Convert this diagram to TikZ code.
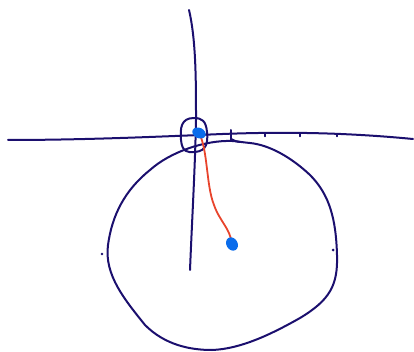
\documentclass[tikz,border=0pt]{standalone}
\begin{document}
\begin{tikzpicture}[x=1pt,y=-1pt,
  ink/.style={draw=inkc,line width=2pt,line cap=round,line join=round},
  thin ink/.style={draw=inkc,line width=1.5pt,line cap=round},
  redline/.style={draw=redc,line width=1.8pt,line cap=round}]
\definecolor{inkc}{HTML}{1B0F6E}
\definecolor{blobc}{HTML}{0A6CEB}
\definecolor{redc}{HTML}{E8442C}
\useasboundingbox (0,0) rectangle (414,352);
% vertical axis
\coordinate (vtop) at (189,10);
\coordinate (vbot) at (190,270);
\draw[ink] (vtop) .. controls (196,40) and (196,80) .. (196,120)
  .. controls (195,170) and (192,220) .. (vbot);
% horizontal axis
\coordinate (hl) at (8,140);
\coordinate (hr) at (413,139);
\draw[ink] (hl) .. controls (80,140) and (150,137) .. (200,135)
  .. controls (260,132) and (330,131) .. (hr);
% ticks
\coordinate (t1) at (231,130);
\draw[ink] (t1) -- (231,140);
\draw[ink] (231,139) .. controls (235,141) and (237,142) .. (240,142);
\foreach \x in {265,300,337} \draw[thin ink] (\x,134) -- (\x,136.5);
% loop around origin
\draw[ink] (194,118) .. controls (181,118) and (180,128) .. (181,140)
  .. controls (182,152) and (188,153) .. (195,152)
  .. controls (207,151) and (208,142) .. (207,132)
  .. controls (206,121) and (202,118) .. (194,118);
% big circle
\coordinate (ctop) at (232,141);
\draw[ink] (ctop) .. controls (205,140) and (170,152) .. (150,170)
  .. controls (125,190) and (112,215) .. (108,245)
  .. controls (104,275) and (125,300) .. (145,325)
  .. controls (165,345) and (190,350) .. (212,350)
  .. controls (240,349) and (270,335) .. (300,318)
  .. controls (330,300) and (338,285) .. (337,255)
  .. controls (336,220) and (330,195) .. (310,175)
  .. controls (292,158) and (270,145) .. (250,143)
  .. controls (240,142) and (235,141) .. (ctop);
% dots
\fill[inkc] (102,254) circle (1.3);
\fill[inkc] (333,250) circle (1.5);
% red curve
\coordinate (b1) at (199,133);
\coordinate (b2) at (232,244);
\draw[redline] (b1) .. controls (208,150) and (206,185) .. (214,205)
  .. controls (220,222) and (230,228) .. (b2);
% blue blobs
\fill[blobc,rotate around={-25:(b1)}] (b1) ellipse (7 and 5.2);
\fill[blobc,rotate around={30:(b2)}] (b2) ellipse (5.6 and 7);
\end{tikzpicture}
\end{document}
